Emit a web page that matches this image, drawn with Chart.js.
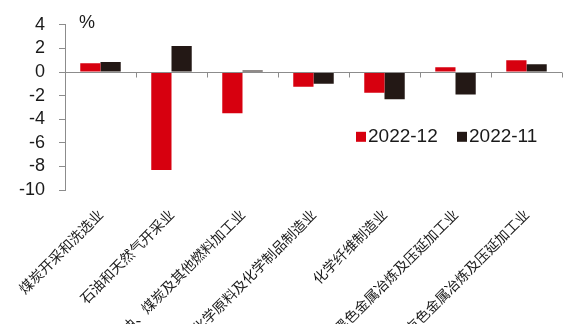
<!DOCTYPE html>
<html>
<head>
<meta charset="utf-8">
<script src="https://cdn.jsdelivr.net/npm/chart.js@4/dist/chart.umd.min.js"></script>
<style>
  body { margin: 0; background: #fff; }
  #wrap { width: 581px; height: 324px; }
</style>
</head>
<body>
<div id="wrap"><canvas id="chart"></canvas></div>
<script>
var industries = ['煤炭开采和洗选业', '石油和天然气开采业', '石油、煤炭及其他燃料加工业',
  '化学原料及化学制品制造业', '化学纤维制造业', '黑色金属冶炼及压延加工业', '有色金属冶炼及压延加工业'];
var dec22 = [0.75, -8.3, -3.5, -1.25, -1.75, 0.4, 1.0];
var nov22 = [0.85, 2.2, 0.13, -1.0, -2.3, -1.9, 0.65];
var seriesNames = ['2022-12', '2022-11'];
var seriesColors = ['#d7000f', '#231815'];
var yTicks = [4, 2, 0, -2, -4, -6, -8, -10];

var axisColor = '#8c8c8c';
var tickFont = '"Liberation Sans", Arial, sans-serif';

// zero line, category ticks, unit label and the legend inside the plot
var extras = {
  id: 'extras',
  afterDatasetsDraw: function(chart) {
    var ctx = chart.ctx;
    var ys = chart.scales.y;
    var area = chart.chartArea;
    var y0 = Math.round(ys.getPixelForValue(0)) + 0.5;
    ctx.save();
    ctx.strokeStyle = axisColor;
    ctx.lineWidth = 1;
    ctx.beginPath();
    ctx.moveTo(area.left, y0);
    ctx.lineTo(area.right, y0);
    var step = (area.right - area.left) / industries.length;
    for (var i = 1; i <= industries.length; i++) {
      var x = Math.round(area.left + i * step) + 0.5;
      ctx.moveTo(x, y0);
      ctx.lineTo(x, y0 + 5);
    }
    ctx.stroke();

    ctx.fillStyle = '#1a1a1a';
    ctx.font = '18px ' + tickFont;
    ctx.textBaseline = 'middle';
    ctx.textAlign = 'left';
    ctx.fillText('%', area.left + 14, area.top - 2);

    ctx.font = '19px ' + tickFont;
    var lx = area.left + 291, ly = area.top + 112;
    for (var k = 0; k < seriesNames.length; k++) {
      ctx.fillStyle = seriesColors[k];
      ctx.fillRect(lx, ly - 5, 10, 10);
      ctx.fillStyle = '#1a1a1a';
      ctx.fillText(seriesNames[k], lx + 12, ly);
      lx += 101;
    }
    ctx.restore();
  }
};

new Chart(document.getElementById('chart'), {
  type: 'bar',
  data: {
    labels: industries,
    datasets: [{
      label: seriesNames[0],
      data: dec22,
      backgroundColor: seriesColors[0],
      categoryPercentage: 0.57,
      barPercentage: 1.0
    }, {
      label: seriesNames[1],
      data: nov22,
      backgroundColor: seriesColors[1],
      categoryPercentage: 0.57,
      barPercentage: 1.0
    }]
  },
  options: {
    responsive: true,
    maintainAspectRatio: false,
    animation: false,
    layout: { padding: { top: 16, right: 19, left: 0, bottom: 0 } },
    plugins: {
      legend: { display: false },
      tooltip: { enabled: false }
    },
    scales: {
      x: {
        grid: { display: false },
        border: { display: false },
        ticks: {
          color: '#1a1a1a',
          font: { family: '"Noto Sans CJK SC", sans-serif', size: 14 },
          maxRotation: 45,
          minRotation: 45,
          autoSkip: false,
          padding: 8
        },
        afterFit: function(scale) { scale.height = 134; }
      },
      y: {
        min: -10,
        max: 4,
        afterBuildTicks: function(scale) {
          scale.ticks = yTicks.map(function(v) { return { value: v }; });
        },
        grid: { drawOnChartArea: false, color: axisColor, tickLength: 6 },
        border: { color: axisColor },
        ticks: {
          color: '#1a1a1a',
          font: { family: tickFont, size: 18 },
          padding: 14,
          autoSkip: false
        },
        afterFit: function(scale) { scale.width = 65; }
      }
    }
  },
  plugins: [extras]
});
</script>
</body>
</html>
